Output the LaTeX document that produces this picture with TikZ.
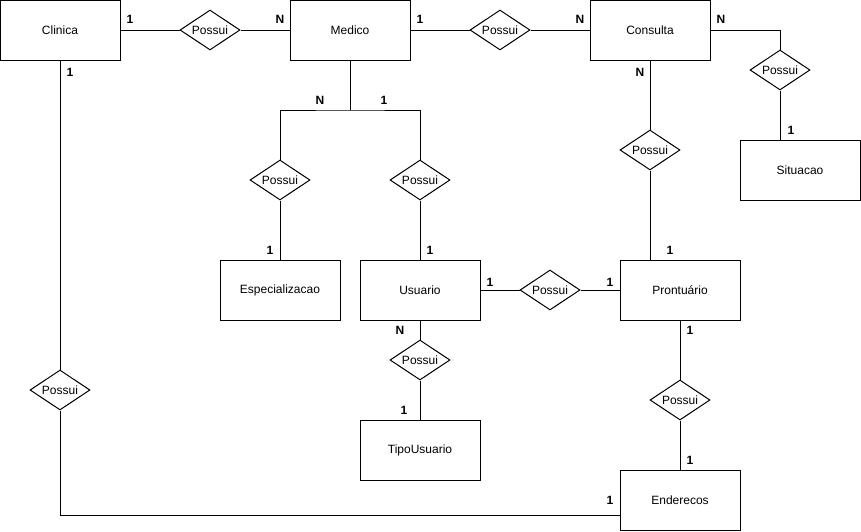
\documentclass[tikz,border=0pt]{standalone}
\usepackage{fontspec}
\setmainfont{Liberation Sans}
\usetikzlibrary{shapes.geometric}
\begin{document}
\begin{tikzpicture}[x=1pt,y=-1pt,line width=1pt,
  entity/.style={draw,rectangle,minimum width=120pt,minimum height=60pt,inner sep=0pt,font=\fontsize{12}{14}\selectfont},
  rel/.style={draw,diamond,aspect=1.5,minimum width=60pt,minimum height=40pt,inner sep=0pt,fill=white,font=\fontsize{12}{14}\selectfont},
  card/.style={inner sep=0pt,font=\fontsize{12}{14}\selectfont\bfseries}]
\useasboundingbox (0,0) rectangle (861,531);

% entities
\node[entity] (cli)   at (60,30)   {Clinica};
\node[entity] (med)   at (350,30)  {Medico};
\node[entity] (cons)  at (650,30)  {Consulta};
\node[entity] (sit)   at (800,170) {Situacao};
\node[entity] (esp)   at (280,290) {Especializacao};
\node[entity] (usu)   at (420,290) {Usuario};
\node[entity] (pron)  at (680,290) {Prontuário};
\node[entity] (tipo)  at (420,450) {TipoUsuario};
\node[entity] (ender) at (680,500) {Enderecos};

% relationships
\node[rel] (r1)  at (210,30)  {Possui};
\node[rel] (r2)  at (500,30)  {Possui};
\node[rel] (r3)  at (780,70)  {Possui};
\node[rel] (r4)  at (280,180) {Possui};
\node[rel] (r5)  at (420,180) {Possui};
\node[rel] (r6)  at (650,150) {Possui};
\node[rel] (r7)  at (550,290) {Possui};
\node[rel] (r8)  at (420,360) {Possui};
\node[rel] (r9)  at (680,400) {Possui};
\node[rel] (r10) at (60,390)  {Possui};

\coordinate (mb) at (350,110);
\coordinate (endin) at (620,515);

% connectors
\draw (cli.east) -- (r1.west);
\draw (r1.east) -- (med.west);
\draw (med.east) -- (r2.west);
\draw (r2.east) -- (cons.west);
\draw (cons.east) -| (r3.north);
\draw (r3.south) -- (r3.south |- sit.north);
\draw (med.south) -- (mb);
\draw (r4.north) |- (mb) -| (r5.north);
\draw (r4.south) -- (esp.north);
\draw (r5.south) -- (usu.north);
\draw (cons.south) -- (r6.north);
\draw (r6.south) -- (r6.south |- pron.north);
\draw (usu.east) -- (r7.west);
\draw (r7.east) -- (pron.west);
\draw (usu.south) -- (r8.north);
\draw (r8.south) -- (tipo.north);
\draw (pron.south) -- (r9.north);
\draw (r9.south) -- (ender.north);
\draw (cli.south) -- (r10.north);
\draw (r10.south) |- (endin);

% cardinalities
\node[card] (c1)  at (130,19)  {1};
\node[card] (c2)  at (280,19)  {N};
\node[card] (c3)  at (420,19)  {1};
\node[card] (c4)  at (580,19)  {N};
\node[card] (c5)  at (721,19)  {N};
\node[card] (c6)  at (70,72)   {1};
\node[card] (c7)  at (320,100) {N};
\node[card] (c8)  at (384,100) {1};
\node[card] (c9)  at (640,72)  {N};
\node[card] (c10) at (791,130) {1};
\node[card] (c11) at (270,250) {1};
\node[card] (c12) at (430,250) {1};
\node[card] (c13) at (490,282) {1};
\node[card] (c14) at (610,282) {1};
\node[card] (c15) at (670,250) {1};
\node[card] (c16) at (400,330) {N};
\node[card] (c17) at (404,410) {1};
\node[card] (c18) at (690,330) {1};
\node[card] (c19) at (690,460) {1};
\node[card] (c20) at (610,500) {1};
\end{tikzpicture}
\end{document}
